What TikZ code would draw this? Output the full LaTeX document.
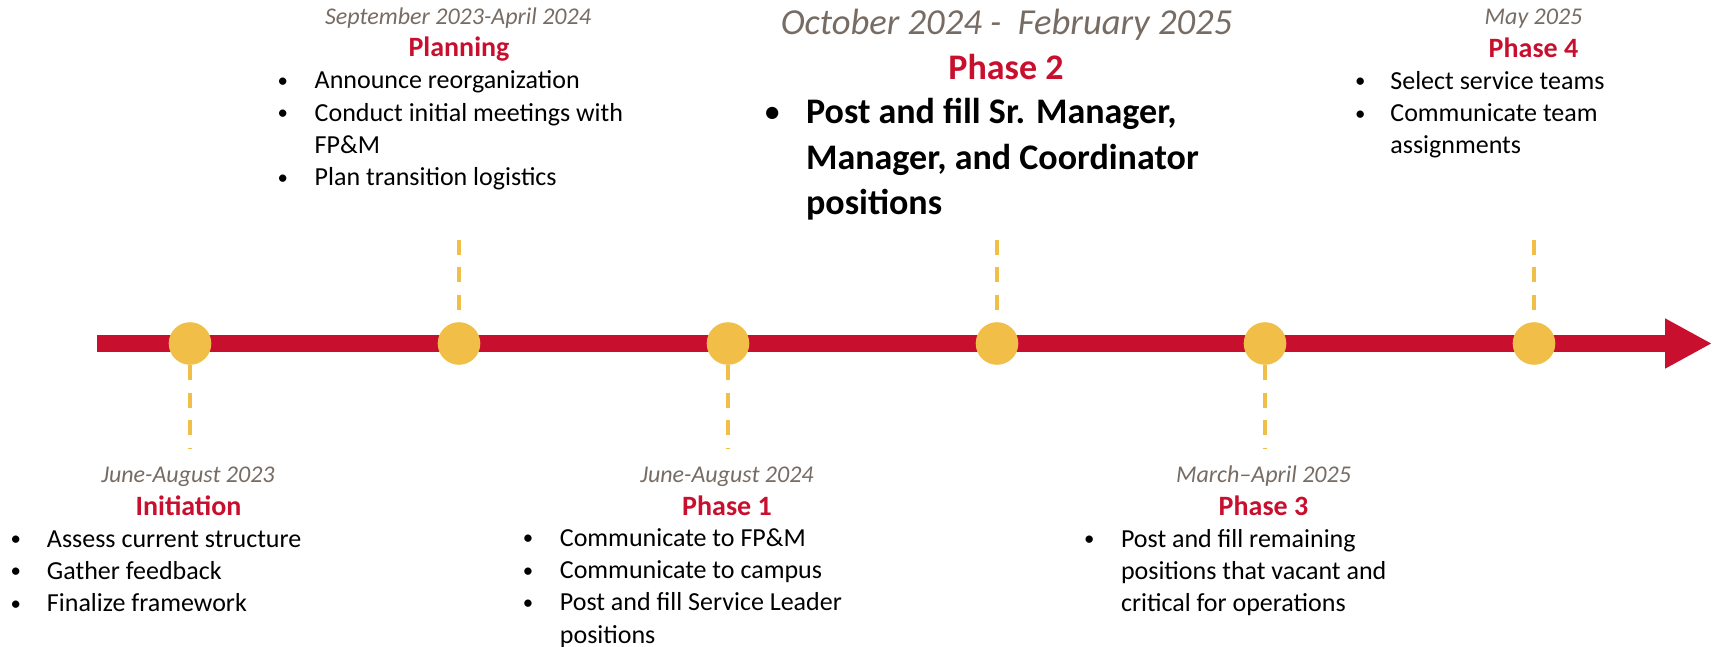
\documentclass[tikz,border=0pt]{standalone}
\usepackage{fontspec}
\setmainfont{Carlito}
\usetikzlibrary{arrows.meta,positioning}

\definecolor{tlred}{HTML}{C8102E}
\definecolor{tlgold}{HTML}{F1BE48}
\definecolor{tlgray}{HTML}{776C64}

\newcommand{\bl}{\makebox[10pt]{\raisebox{0.06em}{\scalebox{0.8}{\textbullet}}}}
\newcommand{\steps}[2]{\begin{tabular}[t]{@{}l@{\hspace{#1}}l@{}}#2\end{tabular}}

\begin{document}
\begin{tikzpicture}[x=0.5pt,y=-0.5pt,
  tlbar/.style={line width=8.5pt,tlred,-{Triangle[length=23.5pt,width=23.5pt]}},
  tldot/.style={circle,fill=tlgold,inner sep=0pt,minimum size=21.3pt},
  tlguide/.style={tlgold,line width=1.6pt,dash pattern=on 7.5pt off 6.25pt},
  when/.style={anchor=base,inner sep=0pt,text=tlgray,font=\fontsize{12}{14.6}\selectfont\itshape},
  phase/.style={anchor=base,inner sep=0pt,text=tlred,font=\fontsize{14}{17}\selectfont\bfseries},
  todo/.style={anchor=base west,inner sep=0pt,font=\fontsize{13}{16.1}\selectfont},
  bigwhen/.style={when,font=\fontsize{18.3}{22}\selectfont\itshape},
  bigphase/.style={phase,font=\fontsize{18}{22}\selectfont\bfseries},
  bigtodo/.style={todo,font=\fontsize{18}{22.7}\selectfont\bfseries}]
  \useasboundingbox (0,0) rectangle (1715,647);

  % time axis
  \coordinate (start) at (97,343.5);
  \coordinate (end) at (1712,343.5);
  \draw[tlbar] (start) -- (end);

  % milestones
  \foreach \n/\x in {1/190,2/459,3/728,4/997,5/1265,6/1534}
    \node[tldot] (m\n) at (\x,343.5) {};

  % dashed guides
  \coordinate (d1) at (190,449);
  \coordinate (u2) at (459,239.5);
  \coordinate (d3) at (728,449);
  \coordinate (u4) at (997,239.5);
  \coordinate (d5) at (1265,449);
  \coordinate (u6) at (1534,239.5);
  \foreach \n in {2,4,6}
    \draw[tlguide] (u\n) -- (m\n);
  \foreach \n in {1,3,5}
    \draw[tlguide] (m\n) -- (d\n);

  % above the axis
  \node[when] (w2) at (458,25) {September 2023-April 2024};
  \node[phase] (p2) at (459,57) {Planning};
  \node[todo] (t2) at (272.5,89) {\steps{10.9pt}{\bl & Announce reorganization\\
    \bl & Conduct initial meetings with\\ & FP\&M\\ \bl & Plan transition logistics}};

  \node[bigwhen] (w4) at (1006.5,35) {October 2024 -\ \ February 2025};
  \node[bigphase] (p4) at (1006,80) {Phase 2};
  \node[bigtodo] (t4) at (762,124) {\steps{11.85pt}{\bl & Post and fill Sr. Manager,\\
    & Manager, and Coordinator\\ & positions}};

  \node[when] (w6) at (1533.5,25) {May 2025};
  \node[phase] (p6) at (1533.5,57.3) {Phase 4};
  \node[todo] (t6) at (1350,89.5) {\steps{10pt}{\bl & Select service teams\\
    \bl & Communicate team\\ & assignments}};

  % below the axis
  \node[when] (w1) at (188,482.7) {June-August 2023};
  \node[phase] (p1) at (188.5,515) {Initiation};
  \node[todo] (t1) at (5.4,547.3) {\steps{10.6pt}{\bl & Assess current structure\\
    \bl & Gather feedback\\ \bl & Finalize framework}};

  \node[when] (w3) at (727,482.7) {June-August 2024};
  \node[phase] (p3) at (727,515) {Phase 1};
  \node[todo] (t3) at (517.7,546.5) {\steps{10.9pt}{\bl & Communicate to FP\&M\\
    \bl & Communicate to campus\\ \bl & Post and fill Service Leader\\ & positions}};

  \node[when] (w5) at (1263.5,482.7) {March--April 2025};
  \node[phase] (p5) at (1263.5,515) {Phase 3};
  \node[todo] (t5) at (1079,547.3) {\steps{10.8pt}{\bl & Post and fill remaining\\
    & positions that vacant and\\ & critical for operations}};
\end{tikzpicture}
\end{document}
